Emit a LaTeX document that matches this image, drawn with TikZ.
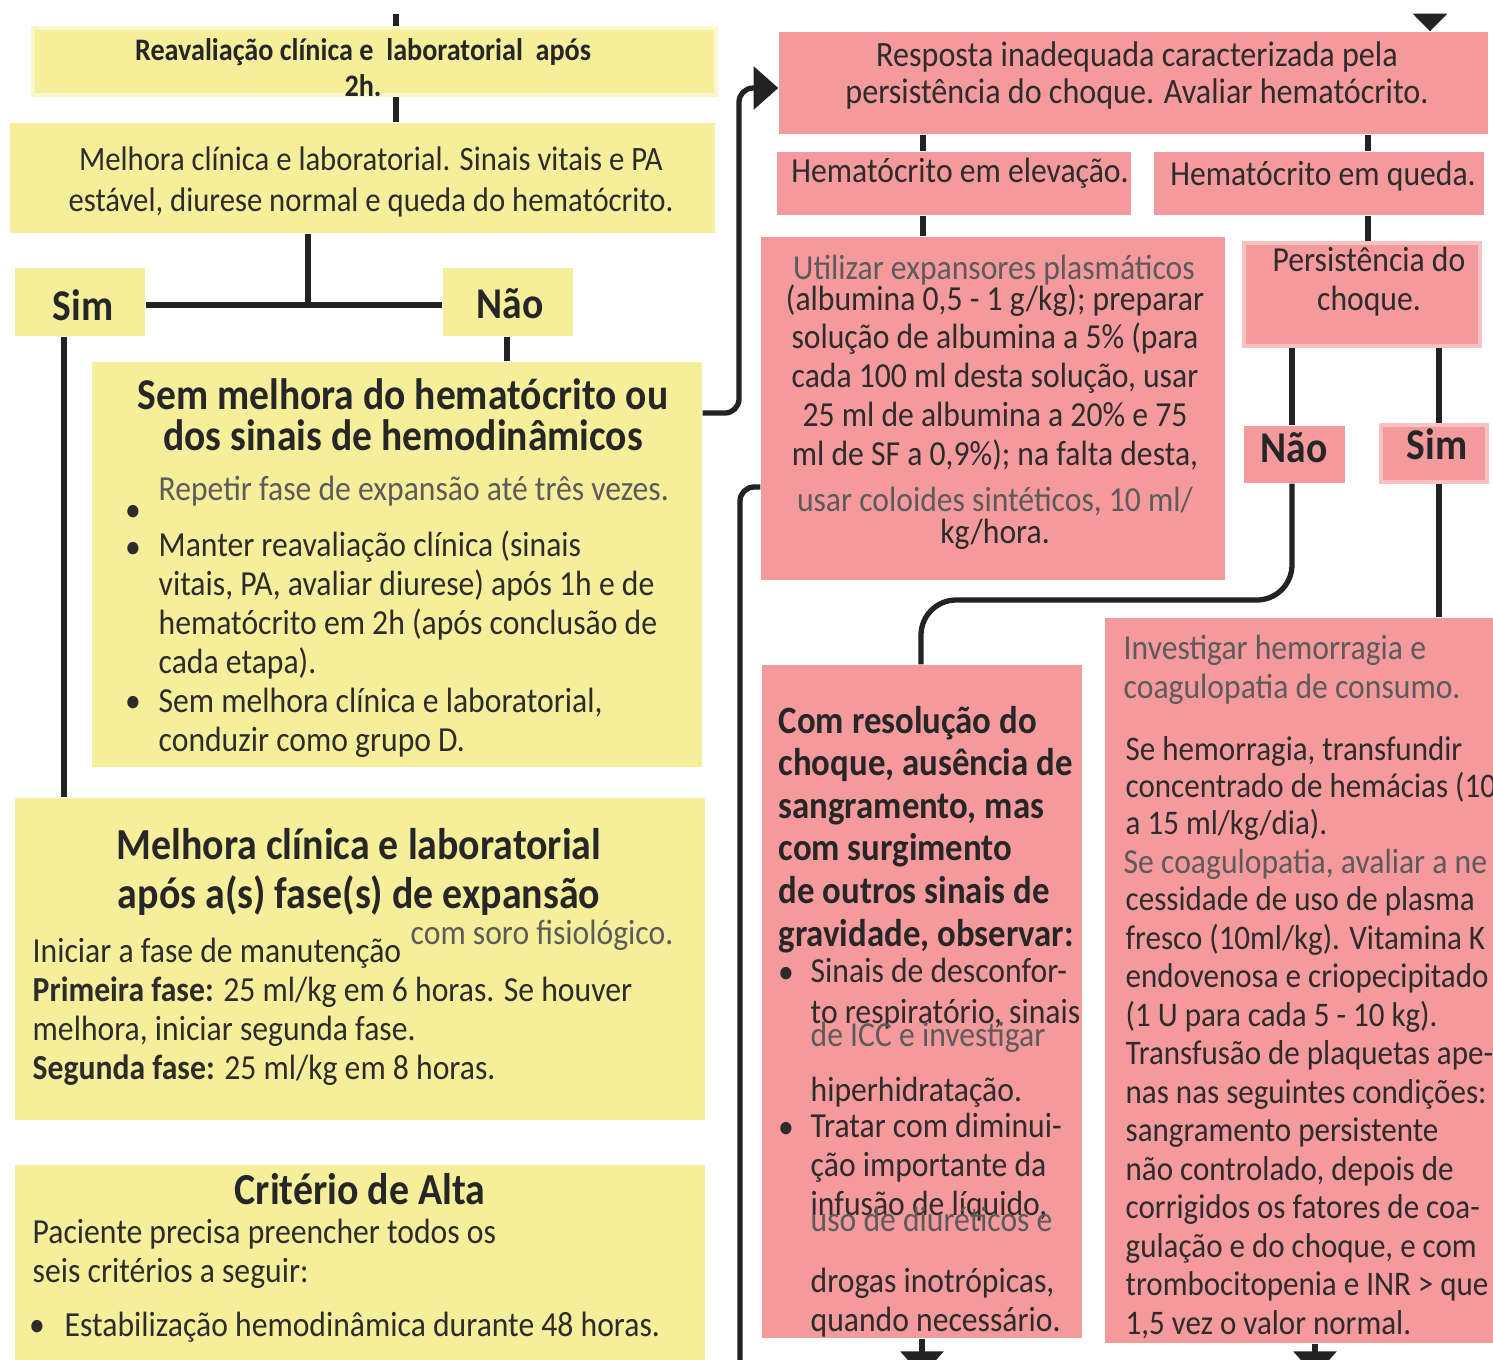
\documentclass[tikz,border=0pt]{standalone}
\usepackage{fontspec}
\setmainfont{Carlito}[FakeStretch=0.9]
\usetikzlibrary{fit,arrows.meta}
\definecolor{boxyellow}{HTML}{F5EE9B}
\definecolor{boxpink}{HTML}{F49A9C}
\definecolor{pinkedge}{HTML}{F8C2C2}
\definecolor{inkdark}{HTML}{2E2B2B}
\definecolor{inklight}{HTML}{5E5A5A}
\definecolor{wirecol}{HTML}{232323}
\def\fs#1#2{\fontsize{#1}{#2}\selectfont}

\begin{document}
\begin{tikzpicture}[x=0.01cm,y=-0.01cm,
  ybox/.style={fill=boxyellow,inner sep=0pt},
  pbox/.style={fill=boxpink,inner sep=0pt},
  wire/.style={draw=wirecol,line width=1.5pt},
  arrowend/.style={-{Triangle[width=12pt,length=7pt]}},
  body/.style={text=inkdark,inner sep=0pt,font=\fs{10}{11}},
  pale/.style={text=inklight,inner sep=0pt,font=\fs{10}{11}},
  boldhead/.style={text=black!85,inner sep=0pt,font=\bfseries\fs{12.5}{11.4}}]
	%%%%% START %%%%%
	\useasboundingbox (0,0) rectangle (1493,1359);
	\clip (0,0) rectangle (1493,1359);
	\fill[white] (0,0) rectangle (1493,1359);

	% x of the vertical wires
	\coordinate (xa) at (396,0);
	\coordinate (xb) at (308,0);
	\coordinate (xs) at (64,0);
	\coordinate (xn) at (507,0);
	\coordinate (xv) at (739,0);
	\coordinate (xe) at (923,0);
	\coordinate (xf) at (1368,0);
	\coordinate (xn2) at (1292,0);
	\coordinate (xs2) at (1439,0);
	\coordinate (xr) at (921,0);
	\coordinate (xi) at (1315,0);
	% y of the horizontal wires
	\coordinate (yj) at (0,305);
	\coordinate (ya) at (0,413);
	\coordinate (yb) at (0,88);
	\coordinate (yq) at (0,600);
	\coordinate (yl) at (0,487);
	% free ends
	\coordinate (inA) at (396,14);
	\coordinate (inR) at (1430,14);
	\coordinate (outL) at (740,1420);
	\coordinate (outC) at (922,1376);
	\coordinate (outI) at (1315,1376);

	% left column
	\node[ybox,draw=boxyellow!50!white,line width=1pt,fit={(33,28) (716,95)}] (reav) {};
	\node[ybox,fit={(10,123) (715,233)}] (melh) {};
	\node[ybox,fit={(15,268) (145,336)}] (sim) {};
	\node[ybox,fit={(443,268) (573,336)}] (nao) {};
	\node[ybox,fit={(92,362) (702,767)}] (semm) {};
	\node[ybox,fit={(15,798) (705,1120)}] (melh2) {};
	\node[ybox,fit={(15,1165) (705,1400)}] (alta) {};

	% right column
	\node[pbox,fit={(779,32) (1488,134)}] (resp) {};
	\node[pbox,fit={(777,152) (1131,215)}] (hel) {};
	\node[pbox,fit={(1154,152) (1484,215)}] (hq) {};
	\node[pbox,fit={(761,237) (1225,580)}] (util) {};
	\node[pbox,draw=pinkedge,line width=1pt,fit={(1244,243) (1480,346)}] (pers) {};
	\node[pbox,fit={(1244,426) (1345,483)}] (nao2) {};
	\node[pbox,draw=pinkedge,line width=1pt,fit={(1381,425) (1487,482)}] (sim2) {};
	\node[pbox,fit={(762,665) (1082,1338)}] (comres) {};
	\node[pbox,fit={(1105,618) (1510,1343)}] (inv) {};

	% wires
	\draw[wire] (inA) -- (reav.north -| xa);
	\draw[wire] (reav.south -| xa) -- (melh.north -| xa);
	\draw[wire] (melh.south -| xb) -- (xb |- yj);
	\draw[wire] (sim.east |- yj) -- (nao.west |- yj);
	\draw[wire] (sim.south -| xs) -- (melh2.north -| xs);
	\draw[wire] (nao.south -| xn) -- (semm.north -| xn);
	\draw[wire,rounded corners=4pt,arrowend] (semm.east |- ya) -| (xv |- yb) -- (resp.west |- yb);
	\draw[wire,-{Triangle[width=9.5pt,length=5pt]}] (inR) -- (resp.north -| inR);
	\draw[wire] (resp.south -| xe) -- (hel.north -| xe);
	\draw[wire] (resp.south -| xf) -- (hq.north -| xf);
	\draw[wire] (hel.south -| xe) -- (util.north -| xe);
	\draw[wire] (hq.south -| xf) -- (pers.north -| xf);
	\draw[wire] (pers.south -| xn2) -- (nao2.north -| xn2);
	\draw[wire] (pers.south -| xs2) -- (sim2.north -| xs2);
	\draw[wire,rounded corners=10pt] (nao2.south -| xn2) |- (xr |- yq) -- (comres.north -| xr);
	\draw[wire] (sim2.south -| xs2) -- (inv.north -| xs2);
	\draw[wire,rounded corners=4pt] (util.west |- yl) -| (outL);
	\draw[wire,arrowend] (comres.south -| outC) -- (outC);
	\draw[wire,arrowend] (inv.south -| xi) -- (outI);

	% texts, left column (base = last line)
	\node[text=black!85,inner sep=0pt,font=\bfseries\fs{8.9}{10.2},align=center,anchor=base] (reavT) at (363,96) {Reavaliação clínica e\ \ laboratorial\ \ após\\2h.};
	\node[body,font=\fs{9.7}{11.4},align=center,anchor=base] (melhT) at (371,211) {Melhora clínica e laboratorial. Sinais vitais e PA\\estável, diurese normal e queda do hematócrito.};
	\node[boldhead,anchor=base] (simT) at (83,320) {Sim};
	\node[boldhead,anchor=base] (naoT) at (510,318) {Não};

	\node[boldhead,align=center,anchor=base] (semT) at (403,450) {Sem melhora do hematócrito ou\\dos sinais de hemodinâmicos};
	\node[pale,anchor=base west] (semP) at (158,500) {Repetir fase de expansão até três vezes.};
	\node[body,anchor=base] (semB0) at (133,521) {\textbullet};
	\node[body,anchor=base] (semB1) at (133,558) {\textbullet};
	\node[body,align=left,anchor=base west] (semL1) at (158,673) {Manter reavaliação clínica (sinais\\vitais, PA, avaliar diurese) após 1h e de\\hematócrito em 2h (após conclusão de\\cada etapa).};
	\node[body,anchor=base] (semB2) at (133,712) {\textbullet};
	\node[body,align=left,anchor=base west] (semL2) at (158,751) {Sem melhora clínica e laboratorial,\\conduzir como grupo D.};

	\node[boldhead,font=\bfseries\fs{12.6}{13.7},align=center,anchor=base] (melh2T) at (359,908) {Melhora clínica e laboratorial\\após a(s) fase(s) de expansão};
	\node[pale,anchor=base west] (melh2P) at (410,944) {com soro fisiológico.};
	\node[body,anchor=base west] (melh2A) at (32,962) {Iniciar a fase de manutenção};
	\node[body,align=left,anchor=base west] (melh2L) at (32,1079) {\textbf{Primeira fase:} 25 ml/kg em 6 horas. Se houver\\melhora, iniciar segunda fase.\\\textbf{Segunda fase:} 25 ml/kg em 8 horas.};

	\node[boldhead,font=\bfseries\fs{12.6}{13.7},anchor=base] (altaT) at (360,1204) {Critério de Alta};
	\node[body,align=left,anchor=base west] (altaL) at (32,1282) {Paciente precisa preencher todos os\\seis critérios a seguir:};
	\node[body,anchor=base] (altaB1) at (37,1336) {\textbullet};
	\node[body,anchor=base west] (altaL1) at (64,1336) {Estabilização hemodinâmica durante 48 horas.};

	% texts, right column
	\node[body,font=\fs{10.15}{10.5},align=center,anchor=base] (respT) at (1137,103) {Resposta inadequada caracterizada pela\\persistência do choque. Avaliar hematócrito.};
	\node[body,anchor=base] (helT) at (960,182) {Hematócrito em elevação.};
	\node[body,anchor=base] (hqT) at (1323,185) {Hematócrito em queda.};

	\node[pale,anchor=base] (utilP1) at (994,279) {Utilizar expansores plasmáticos};
	\node[body,align=center,anchor=base] (utilT) at (995,465) {(albumina 0,5 - 1 g/kg); preparar\\solução de albumina a 5\% (para\\cada 100 ml desta solução, usar\\25 ml de albumina a 20\% e 75\\ml de SF a 0,9\%); na falta desta,};
	\node[pale,anchor=base] (utilP2) at (995,511) {usar coloides sintéticos, 10 ml/};
	\node[body,anchor=base] (utilT2) at (995,543) {kg/hora.};

	\node[body,align=center,anchor=base] (persT) at (1369,310) {Persistência do\\choque.};
	\node[boldhead,anchor=base] (nao2T) at (1294,462) {Não};
	\node[boldhead,anchor=base] (sim2T) at (1437,459) {Sim};

	\node[boldhead,font=\bfseries\fs{11}{12.1},align=left,anchor=base west] (comT) at (778,946) {Com resolução do\\choque, ausência de\\sangramento, mas\\com surgimento\\de outros sinais de\\gravidade, observar:};
	\node[body,anchor=base] (comB1) at (786,983) {\textbullet};
	\node[body,font=\fs{10}{11.4},align=left,anchor=base west] (comL1) at (810,1023) {Sinais de desconfor-\\to respiratório, sinais};
	\node[pale,anchor=base west] (comP1) at (810,1046) {de ICC e investigar};
	\node[body,anchor=base west] (comL2) at (810,1101) {hiperhidratação.};
	\node[body,anchor=base] (comB2) at (786,1138) {\textbullet};
	\node[body,align=left,anchor=base west] (comL3) at (810,1215) {Tratar com diminui-\\ção importante da\\infusão de líquido,};
	\node[pale,anchor=base west] (comP2) at (810,1231) {uso de diuréticos e};
	\node[body,align=left,anchor=base west] (comL4) at (810,1331) {drogas inotrópicas,\\quando necessário.};

	\node[pale,align=left,anchor=base west] (invP1) at (1123,698) {Investigar hemorragia e\\coagulopatia de consumo.};
	\node[body,font=\fs{9.8}{10.5},align=left,anchor=base west] (invL1) at (1125,834) {Se hemorragia, transfundir\\concentrado de hemácias (10\\a 15 ml/kg/dia).};
	\node[pale,anchor=base west] (invP2) at (1123,873) {Se coagulopatia, avaliar a ne};
	\node[body,font=\fs{9.8}{10.94},align=left,anchor=base west] (invL2) at (1125,1334) {cessidade de uso de plasma\\fresco (10ml/kg). Vitamina K\\endovenosa e criopecipitado\\(1 U para cada 5 - 10 kg).\\Transfusão de plaquetas ape-\\nas nas seguintes condições:\\sangramento persistente\\não controlado, depois de\\corrigidos os fatores de coa-\\gulação e do choque, e com\\trombocitopenia e INR > que\\1,5 vez o valor normal.};
	%%%%% END %%%%%
\end{tikzpicture}
\end{document}
